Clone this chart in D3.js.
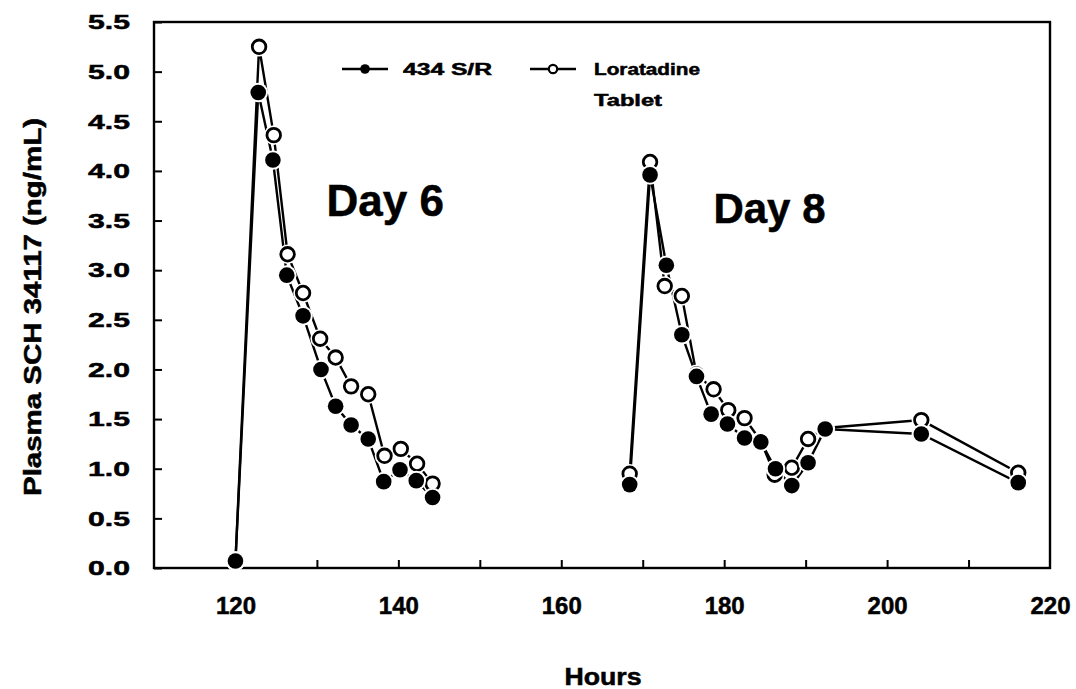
<!DOCTYPE html>
<html><head><meta charset="utf-8">
<script src="https://cdn.jsdelivr.net/npm/d3@7"></script>
<style>
body{margin:0;background:#fff}
svg{display:block}
text{font-family:"Liberation Sans",Arial,sans-serif;font-weight:bold;fill:#000;stroke:#000;stroke-width:0.5px}
</style>
</head><body>
<svg id="chart" width="1076" height="689"></svg>
<script>
// ---------------- data ----------------
const srHoursDay6  = [120, 122.8, 124.6, 126.3, 128.3, 130.5, 132.3, 134.2, 136.3, 138.2, 140.2, 142.2, 144.2];
const srValuesDay6 = [0.07, 4.79, 4.11, 2.95, 2.54, 2.00, 1.63, 1.44, 1.30, 0.87, 0.99, 0.88, 0.71];
const srHoursDay8  = [168.4, 170.9, 172.9, 174.8, 176.6, 178.4, 180.4, 182.5, 184.5, 186.3, 188.3, 190.3, 192.4, 204.2, 216.1];
const srValuesDay8 = [0.84, 3.96, 3.05, 2.35, 1.93, 1.55, 1.45, 1.31, 1.27, 1.00, 0.83, 1.06, 1.40, 1.35, 0.86];

const tabHoursDay6  = [120, 122.9, 124.7, 126.4, 128.3, 130.4, 132.3, 134.2, 136.3, 138.3, 140.3, 142.3, 144.2];
const tabValuesDay6 = [0.07, 5.25, 4.36, 3.16, 2.77, 2.31, 2.12, 1.83, 1.75, 1.13, 1.20, 1.05, 0.85];
const tabHoursDay8  = [168.4, 170.9, 172.7, 174.8, 176.6, 178.7, 180.5, 182.5, 184.5, 186.2, 188.3, 190.3, 192.4, 204.2, 216.1];
const tabValuesDay8 = [0.95, 4.09, 2.84, 2.74, 1.95, 1.80, 1.59, 1.51, 1.28, 0.94, 1.01, 1.30, 1.41, 1.49, 0.96];

const seriesNames = ["434 S/R", "Loratadine", "Tablet"];
const dayLabels = ["Day 6", "Day 8"];
const dayLabelHours = [120, 168];
const xTickLabels = [120, 140, 160, 180, 200, 220];
const xTickMarks = [120, 130, 140, 150, 160, 170, 180, 190, 200, 210];
const yTickValues = [0, 0.5, 1.0, 1.5, 2.0, 2.5, 3.0, 3.5, 4.0, 4.5, 5.0, 5.5];
const xDomain = [110, 220];
const yDomain = [0, 5.5];
const xTitle = "Hours";
const yTitle = "Plasma SCH 34117 (ng/mL)";

// ---------------- drawing ----------------
const svg = d3.select("#chart");
const L = 154, R = 1050, T = 22, B = 568;
const x = d3.scaleLinear().domain(xDomain).range([L, R]);
const y = d3.scaleLinear().domain(yDomain).range([B, T]);

const zip = (hs, vs) => hs.map((h, i) => ({h, v: vs[i]}));
const srSegs  = [zip(srHoursDay6, srValuesDay6), zip(srHoursDay8, srValuesDay8)];
const tabSegs = [zip(tabHoursDay6, tabValuesDay6), zip(tabHoursDay8, tabValuesDay8)];

// frame
svg.append("rect").attr("x", L).attr("y", T).attr("width", R - L).attr("height", B - T)
  .attr("fill", "none").attr("stroke", "#000").attr("stroke-width", 2.4);

// x ticks inside (no labels)
const gxt = svg.append("g").attr("transform", `translate(0,${B})`)
  .call(d3.axisBottom(x).tickValues(xTickMarks).tickSize(-8).tickFormat(""));
gxt.select(".domain").remove();
gxt.selectAll(".tick line").attr("stroke", "#000").attr("stroke-width", 2);

// x labels
const gxl = svg.append("g").attr("transform", `translate(0,${B})`)
  .call(d3.axisBottom(x).tickValues(xTickLabels).tickSize(0).tickPadding(29).tickFormat(d3.format("d")));
gxl.select(".domain").remove();
gxl.selectAll(".tick text").attr("font-size", 24).attr("font-family", "Liberation Sans, Arial, sans-serif")
  .attr("font-weight", "bold").attr("dy", "0.71em");

// y ticks + labels
const gy = svg.append("g").attr("transform", `translate(${L},0)`)
  .call(d3.axisLeft(y).tickValues(yTickValues).tickSize(-8).tickPadding(24).tickFormat(d3.format(".1f")));
gy.select(".domain").remove();
gy.selectAll(".tick line").attr("stroke", "#000").attr("stroke-width", 2);
gy.selectAll(".tick text").attr("font-size", 21).attr("font-family", "Liberation Sans, Arial, sans-serif")
  .attr("font-weight", "bold").attr("textLength", 42).attr("lengthAdjust", "spacingAndGlyphs");

// axis titles
svg.append("text").attr("x", 603).attr("y", 685).attr("text-anchor", "middle")
  .attr("font-size", 23).attr("textLength", 77).attr("lengthAdjust", "spacingAndGlyphs").text(xTitle);
svg.append("text").attr("transform", "translate(41,307) rotate(-90)").attr("text-anchor", "middle")
  .attr("font-size", 23).attr("textLength", 378).attr("lengthAdjust", "spacingAndGlyphs").text(yTitle);

// day labels
svg.append("text").attr("x", x(dayLabelHours[0]) + 91).attr("y", 216).attr("font-size", 44).text(dayLabels[0]);
svg.append("text").attr("x", x(dayLabelHours[1]) + 87).attr("y", 223).attr("font-size", 42).text(dayLabels[1]);

// lines
const line = d3.line().x(d => x(d.h)).y(d => y(d.v));
const gl = svg.append("g");
[...tabSegs, ...srSegs].forEach(seg => {
  gl.append("path").attr("d", line(seg)).attr("fill", "none").attr("stroke", "#000").attr("stroke-width", 2.4);
});

// markers
const r = 7.8;
function markers(segs, filled) {
  const pts = segs.flat();
  const g = svg.append("g");
  g.selectAll("circle.halo").data(pts).join("circle").attr("class", "halo")
    .attr("cx", d => x(d.h)).attr("cy", d => y(d.v)).attr("r", r + 2).attr("fill", "#fff");
  g.selectAll("circle.mk").data(pts).join("circle").attr("class", "mk")
    .attr("cx", d => x(d.h)).attr("cy", d => y(d.v)).attr("r", filled ? r : r - 1)
    .attr("fill", filled ? "#000" : "#fff").attr("stroke", "#000").attr("stroke-width", filled ? 0 : 2.8);
}
markers(tabSegs, false);
markers(srSegs, true);

// legend
const lg = svg.append("g");
lg.append("line").attr("x1", 342).attr("x2", 388).attr("y1", 69).attr("y2", 69).attr("stroke", "#000").attr("stroke-width", 2.6);
lg.append("circle").attr("cx", 365).attr("cy", 69).attr("r", 4.8).attr("fill", "#000");
lg.append("text").attr("x", 403).attr("y", 75).attr("font-size", 16).attr("textLength", 89)
  .attr("lengthAdjust", "spacingAndGlyphs").text(seriesNames[0]);
lg.append("line").attr("x1", 530).attr("x2", 576).attr("y1", 69).attr("y2", 69).attr("stroke", "#000").attr("stroke-width", 2.6);
lg.append("circle").attr("cx", 553).attr("cy", 69).attr("r", 4.2).attr("fill", "#fff").attr("stroke", "#000").attr("stroke-width", 2.2);
lg.append("text").attr("x", 594).attr("y", 75).attr("font-size", 16).attr("textLength", 106)
  .attr("lengthAdjust", "spacingAndGlyphs").text(seriesNames[1]);
lg.append("text").attr("x", 594).attr("y", 106).attr("font-size", 16).attr("textLength", 68)
  .attr("lengthAdjust", "spacingAndGlyphs").text(seriesNames[2]);
</script>
</body></html>
